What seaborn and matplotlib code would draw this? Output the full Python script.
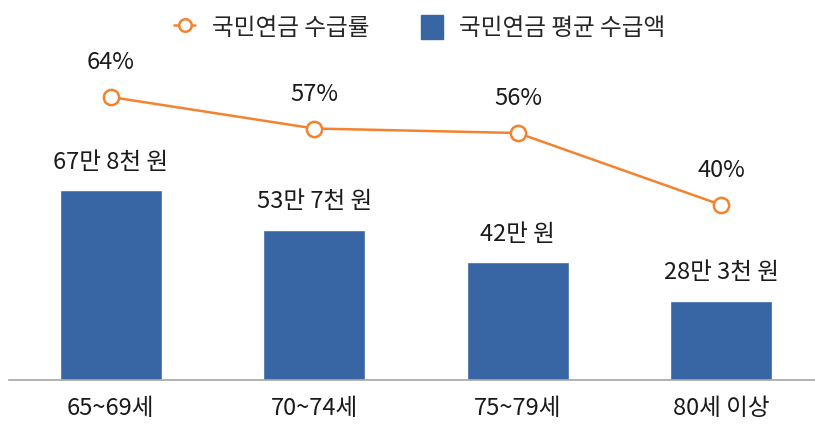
import matplotlib
matplotlib.use("Agg")
import matplotlib.pyplot as plt
import seaborn as sns
import pandas as pd
from matplotlib.lines import Line2D
from matplotlib.patches import Patch

# =====================
# DATA
# =====================
age_groups = ["65~69세", "70~74세", "75~79세", "80세 이상"]
avg_amount = [67.8, 53.7, 42.0, 28.3]          # 만 원
amount_labels = ["67만 8천 원", "53만 7천 원", "42만 원", "28만 3천 원"]
receipt_rate = [64, 57, 56, 40]                # %
rate_labels = ["64%", "57%", "56%", "40%"]

bar_color = "#3865a3"
line_color = "#f5822f"

sns.set_theme(style="white")
plt.rcParams["font.family"] = ["Noto Sans CJK KR", "DejaVu Sans"]

df = pd.DataFrame({"age": age_groups, "amount": avg_amount, "rate": receipt_rate})

fig = plt.figure(figsize=(8.15, 4.25), dpi=100)
ax = fig.add_axes([9 / 815, 45 / 425, 806 / 815, 340 / 425])

# bars
sns.barplot(data=df, x="age", y="amount", color=bar_color, width=0.5,
            saturation=1, ax=ax)
ax.set_ylim(0, 340 / 2.8)
ax.set_xlim(-0.5, 3.46)

for i, (v, lab) in enumerate(zip(avg_amount, amount_labels)):
    ax.annotate(lab, (i, v), xytext=(0, 20), textcoords="offset points",
                ha="center", va="center", fontsize=17, color="#1a1a1a")

# line on twin axis
ax2 = ax.twinx()
sns.pointplot(data=df, x="age", y="rate", color=line_color, markers="o",
              linewidth=1.8, markersize=11, markerfacecolor="white",
              markeredgewidth=1.8, ax=ax2)
ax2.set_ylim((385 - 380) / 4.5, (385 - 40) / 4.5)
ax2.set_xlim(-0.5, 3.46)

for i, (v, lab) in enumerate(zip(receipt_rate, rate_labels)):
    ax2.annotate(lab, (i, v), xytext=(0, 24.5), textcoords="offset points",
                 ha="center", va="center", fontsize=17, color="#1a1a1a")

# axes styling
for a in (ax, ax2):
    a.set_xlabel("")
    a.set_ylabel("")
    a.set_yticks([])
    for s in ["top", "left", "right"]:
        a.spines[s].set_visible(False)
ax2.spines["bottom"].set_visible(False)
ax.spines["bottom"].set_color("#a6a6a6")
ax.spines["bottom"].set_linewidth(1.2)
ax.tick_params(axis="x", length=0, pad=12, labelsize=17, labelcolor="#1a1a1a")

# legend
handles = [
    Line2D([0], [0], color=line_color, lw=1.8, marker="o", markersize=9,
           markerfacecolor="white", markeredgewidth=1.8),
    Patch(facecolor=bar_color, edgecolor=bar_color),
]
fig.legend(handles, ["국민연금 수급률", "국민연금 평균 수급액"], loc="upper center",
           bbox_to_anchor=(0.515, 1.015), ncol=2, frameon=False, fontsize=17,
           handlelength=0.9, handleheight=1.2, columnspacing=2.2,
           handletextpad=0.7)

fig.savefig("out.png", dpi=100)
